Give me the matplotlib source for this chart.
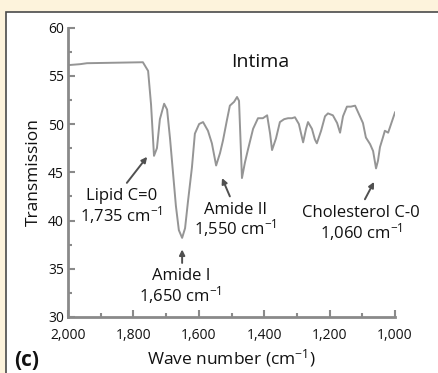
import matplotlib
matplotlib.use("Agg")
import matplotlib.pyplot as plt
from matplotlib.patches import Rectangle
from matplotlib.ticker import MultipleLocator, FuncFormatter

plt.rcParams['font.family'] = ['Open Sans', 'DejaVu Sans']
plt.rcParams['mathtext.fontset'] = 'custom'
plt.rcParams['mathtext.rm'] = 'Open Sans'
plt.rcParams['mathtext.it'] = 'Open Sans:italic'
plt.rcParams['mathtext.bf'] = 'Open Sans:bold'

# ---- data ----
wavenumber = [2000, 1963, 1942, 1771, 1755, 1746, 1737, 1728, 1719, 1706,
              1697, 1688, 1679, 1670, 1661, 1651, 1642, 1633, 1621, 1612,
              1599, 1587, 1572, 1560, 1547, 1535, 1526, 1514, 1505, 1492,
              1483, 1477, 1468, 1459, 1450, 1434, 1419, 1404, 1391, 1382,
              1376, 1364, 1352, 1339, 1327, 1315, 1306, 1294, 1281, 1272,
              1266, 1254, 1245, 1239, 1226, 1214, 1205, 1190, 1177, 1168,
              1159, 1147, 1135, 1122, 1110, 1098, 1089, 1076, 1067, 1058,
              1052, 1046, 1037, 1031, 1021, 1012, 1000]
transmission = [56.1, 56.2, 56.3, 56.4, 55.5, 52.0, 46.7, 47.5, 50.5, 52.1,
                51.5, 48.5, 45.0, 41.5, 39.0, 38.2, 39.2, 42.0, 45.5, 49.0,
                50.0, 50.2, 49.3, 48.0, 45.7, 47.0, 48.3, 50.4, 51.9, 52.3,
                52.8, 52.4, 44.4, 46.0, 47.3, 49.5, 50.6, 50.6, 50.9, 49.0,
                47.3, 48.5, 50.2, 50.5, 50.6, 50.6, 50.7, 50.0, 48.1, 49.5,
                50.2, 49.5, 48.4, 48.0, 49.3, 50.8, 51.1, 50.9, 50.1, 49.1,
                50.8, 51.8, 51.8, 51.9, 51.0, 50.1, 48.6, 47.9, 47.2, 45.4,
                46.2, 47.6, 48.6, 49.3, 49.1, 50.0, 51.2]

title_text = "Intima"
band_names = ["Lipid C=0", "Amide I", "Amide II", "Cholesterol C-0"]
band_values = ["1,735 cm$^{-1}$", "1,650 cm$^{-1}$", "1,550 cm$^{-1}$", "1,060 cm$^{-1}$"]
x_ticks = [2000, 1800, 1600, 1400, 1200, 1000]
y_ticks = [30, 35, 40, 45, 50, 55, 60]

# ---- figure ----
W, H = 438, 373
fig = plt.figure(figsize=(W / 100, H / 100), dpi=100)
fig.patch.set_facecolor('#fdf3dc')

def fx(px):
    return px / W

def fy(py):
    return 1 - py / H

bg = fig.add_axes([0, 0, 1, 1], zorder=-10)
bg.set_axis_off()
bg.set_xlim(0, 1)
bg.set_ylim(0, 1)
bg.add_patch(Rectangle((6 / W, -0.1), 1.2, 1.1 - 12 / H, facecolor='white',
                       edgecolor='#4a4a4a', lw=1.2))

ax = fig.add_axes([fx(68), fy(317), fx(395) - fx(68), fy(27.5) - fy(317)])
ax.set_facecolor('none')
ax.plot(wavenumber, transmission, color='#959595', lw=1.4, solid_joinstyle='round')
ax.set_xlim(2000, 1000)
ax.set_ylim(30, 60)

for s in ['top', 'right']:
    ax.spines[s].set_visible(False)
for s in ['left', 'bottom']:
    ax.spines[s].set_color('#8a8a8a')
    ax.spines[s].set_linewidth(2.0)

ax.set_xticks(x_ticks)
ax.set_yticks(y_ticks)
ax.xaxis.set_minor_locator(MultipleLocator(100))
ax.yaxis.set_minor_locator(MultipleLocator(2.5))
ax.xaxis.set_major_formatter(FuncFormatter(lambda v, p: f"{int(v):,}"))
ax.tick_params(which='both', direction='in', color='#8a8a8a', width=1.5)
ax.tick_params(which='major', length=5)
ax.tick_params(which='minor', length=3)
ax.tick_params(axis='both', labelsize=10, labelcolor='#111111')
ax.tick_params(axis='x', pad=8)
ax.tick_params(axis='y', pad=3)

ax.set_xlabel("Wave number (cm$^{-1}$)", fontsize=12.5, color='#111111', labelpad=3)
ax.set_ylabel("Transmission", fontsize=12.5, color='#111111', labelpad=4)

ax.text(1413, 56.4, title_text, fontsize=14, ha='center', va='center', color='#111111')

label_pos = [(1835, 41.4), (1655, 33.1), (1488, 40.0), (1104, 39.6)]
for name, val, (x, y) in zip(band_names, band_values, label_pos):
    ax.text(x, y, name + "\n" + val, fontsize=12, ha='center', va='center',
            multialignment='center', linespacing=1.0, color='#111111')

arrows = [((1820, 43.9), (1758, 46.6)),
          ((1651, 35.6), (1651, 37.0)),
          ((1505, 42.5), (1529, 44.4)),
          ((1092, 42.2), (1064, 44.0))]
for tail, head in arrows:
    ax.annotate('', xy=head, xytext=tail,
                arrowprops=dict(arrowstyle='-|>', color='#505050', lw=1.4,
                                mutation_scale=8, shrinkA=0, shrinkB=0))

fig.text(fx(27), fy(360), "(c)", fontsize=15, fontweight='bold', ha='center', va='center',
         color='#111111')

fig.savefig("out.png", dpi=100, facecolor=fig.get_facecolor())
